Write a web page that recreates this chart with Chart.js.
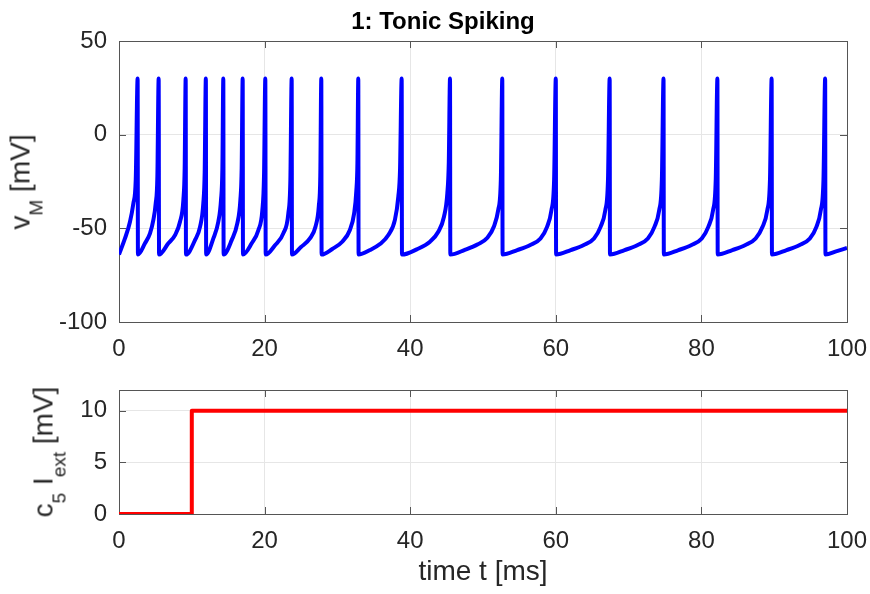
<!DOCTYPE html>
<html>
<head>
<meta charset="utf-8">
<script src="https://cdn.jsdelivr.net/npm/chart.js@4/dist/chart.umd.min.js"></script>
<style>
  body { margin: 0; background: #fff; font-family: "Liberation Sans", Arial, sans-serif; color: #262626; }
  #page { position: relative; width: 870px; height: 594px; overflow: hidden; }
  #top { position: absolute; left: 0; top: 0; }
  #bottom { position: absolute; left: 0; top: 360px; }
  .label { position: absolute; font-size: 28px; line-height: 28px; white-space: nowrap; }
  .ylab { transform: translate(-50%, -50%) rotate(-90deg); }
  .sub { font-size: 19px; position: relative; top: 13px; }
  #title { position: absolute; left: 443px; top: 9px; transform: translateX(-50%);
           font-size: 24px; line-height: 24px; font-weight: bold; color: #000; white-space: nowrap; }
</style>
</head>
<body>
<div id="page">
  <canvas id="top" width="870" height="360"></canvas>
  <canvas id="bottom" width="870" height="234"></canvas>
  <div id="title">1: Tonic Spiking</div>
  <div class="label ylab" style="left:22px; top:182px;">v<span class="sub">M</span> [mV]</div>
  <div class="label ylab" style="left:45px; top:452px;">c<span class="sub">5</span> I<span class="sub">ext</span> [mV]</div>
  <div class="label" style="left:483px; top:557px; transform:translateX(-50%);">time t [ms]</div>
</div>
<script>
// axis ticks
const timeTicks = [0, 20, 40, 60, 80, 100];
const vTicks = [-100, -50, 0, 50];
const iTicks = [0, 5, 10];

// membrane potential, one line per inter-spike interval (ms, mV)
const vTime = [
  0, 0.82, 1.51, 1.97, 2.3, 2.56,
  2.6, 3.57, 4.26, 4.72, 5.04, 5.27, 5.45,
  5.5, 6.78, 7.7, 8.38, 8.84, 9.02, 9.16,
  9.2, 10.44, 11.13, 11.58, 11.77, 11.93,
  11.97, 12.96, 13.64, 14.01, 14.2, 14.33,
  14.37, 15.48, 16.25, 16.67, 16.85, 16.99,
  17.03, 18.23, 19.14, 19.69, 19.92, 20.1,
  20.15, 21.43, 22.57, 23.26, 23.54, 23.72,
  23.76, 25.0, 26.2, 27.0, 27.45, 27.65, 27.79,
  27.83, 29.3, 30.7, 31.7, 32.3, 32.6, 32.75, 32.87,
  32.91, 34.48, 35.85, 37.0, 37.9, 38.37, 38.6, 38.83,
  38.87, 40.9, 42.72, 43.86, 44.64, 45.1, 45.3, 45.47,
  45.51, 47.5, 49.3, 50.6, 51.5, 52.1, 52.45, 52.65,
  52.69, 54.7, 56.5, 57.9, 58.8, 59.4, 59.77, 60.0,
  60.04, 62.05, 63.85, 65.25, 66.15, 66.8, 67.17, 67.4,
  67.44, 69.45, 71.25, 72.65, 73.55, 74.2, 74.57, 74.8,
  74.84, 76.85, 78.65, 80.05, 80.95, 81.6, 81.97, 82.2,
  82.24, 84.25, 86.05, 87.45, 88.4, 89.05, 89.42, 89.65,
  89.69, 91.7, 93.5, 94.9, 95.8, 96.4, 96.77, 97.0,
  97.04, 98.5, 100
];
const vMem = [
  -64, -55.4, -46.5, -36.7, -24, 30,
  -64, -58, -52.7, -45.5, -36.7, -22.4, 30,
  -64, -58, -53.6, -46.5, -34.9, -18, 30,
  -64, -56.3, -49.2, -36.7, -20, 30,
  -64, -55.4, -46.5, -34.9, -18, 30,
  -64, -56.3, -47.4, -34.9, -18, 30,
  -64, -58, -51, -40.3, -22, 30,
  -64, -59, -52.7, -42, -24, 30,
  -64, -60, -55.5, -49, -38, -22, 30,
  -64, -61, -57, -51, -42, -30, -15, 30,
  -64, -61.6, -58.4, -53.6, -45.5, -33, -19, 30,
  -64, -61.2, -57.1, -51.8, -43.8, -31.3, -15, 30,
  -64, -61.5, -58.5, -55, -49, -40, -24, 30,
  -64, -61.6, -58.9, -55.4, -49.2, -40.3, -24, 30,
  -64, -61.6, -58.9, -55.4, -49.2, -40.3, -24, 30,
  -64, -61.6, -58.9, -55.4, -49.2, -40.3, -24, 30,
  -64, -61.6, -58.9, -55.4, -49.2, -40.3, -24, 30,
  -64, -61.6, -58.9, -55.4, -49.2, -40.3, -24, 30,
  -64, -61.6, -58.9, -55.4, -49.2, -40.3, -24, 30,
  -64, -62.3, -60.5
];

// external current step
const iTime = [0, 10, 10, 100];
const iExt = [0, 0, 10, 10];

Chart.defaults.font.family = "'Liberation Sans', Arial, sans-serif";
Chart.defaults.color = '#262626';

// box around the plot area with inward tick marks on all four sides
const boxTicks = {
  id: 'boxTicks',
  beforeDatasetsDraw(chart) {
    const { ctx, chartArea: a, scales: { x, y } } = chart;
    const len = 7;
    ctx.save();
    ctx.strokeStyle = '#555';
    ctx.lineWidth = 1;
    ctx.beginPath();
    x.ticks.forEach(t => {
      const px = Math.round(x.getPixelForValue(t.value)) + 0.5;
      ctx.moveTo(px, a.bottom); ctx.lineTo(px, a.bottom - len);
      ctx.moveTo(px, a.top); ctx.lineTo(px, a.top + len);
    });
    y.ticks.forEach(t => {
      const py = Math.round(y.getPixelForValue(t.value)) + 0.5;
      ctx.moveTo(a.left, py); ctx.lineTo(a.left + len, py);
      ctx.moveTo(a.right, py); ctx.lineTo(a.right - len, py);
    });
    ctx.stroke();
    ctx.strokeRect(Math.round(a.left) + 0.5, Math.round(a.top) + 0.5,
                   Math.round(a.right - a.left), Math.round(a.bottom - a.top));
    ctx.restore();
  }
};

function makeChart(id, xs, ys, color, yMin, yMax, yTicks, pad, xHeight) {
  return new Chart(document.getElementById(id), {
    type: 'line',
    data: {
      datasets: [{
        data: xs.map((t, i) => ({ x: t, y: ys[i] })),
        borderColor: color,
        borderWidth: 4,
        pointRadius: 0,
        borderJoinStyle: 'round',
        cubicInterpolationMode: 'monotone'
      }]
    },
    options: {
      responsive: false,
      animation: false,
      layout: { padding: pad },
      plugins: { legend: { display: false }, tooltip: { enabled: false } },
      scales: {
        x: {
          type: 'linear', min: 0, max: 100,
          afterBuildTicks: s => { s.ticks = timeTicks.map(v => ({ value: v })); },
          afterFit: s => { s.height = xHeight; s.paddingLeft = 0; s.paddingRight = 0; },
          grid: { color: '#e6e6e6', drawTicks: false },
          border: { display: false },
          ticks: { font: { size: 24 }, padding: 13, maxRotation: 0 }
        },
        y: {
          min: yMin, max: yMax,
          afterBuildTicks: s => { s.ticks = yTicks.map(v => ({ value: v })); },
          afterFit: s => { s.width = 119; s.paddingTop = 0; s.paddingBottom = 0; },
          grid: { color: '#e6e6e6', drawTicks: false },
          border: { display: false },
          ticks: { font: { size: 24 }, padding: 12 }
        }
      }
    },
    plugins: [boxTicks]
  });
}

makeChart('top', vTime, vMem, '#0000ff', -100, 50, vTicks,
          { top: 41, right: 23, left: 0, bottom: 0 }, 38);
makeChart('bottom', iTime, iExt, '#ff0000', 0, 12, iTicks,
          { top: 30, right: 23, left: 0, bottom: 0 }, 80);
</script>
</body>
</html>
